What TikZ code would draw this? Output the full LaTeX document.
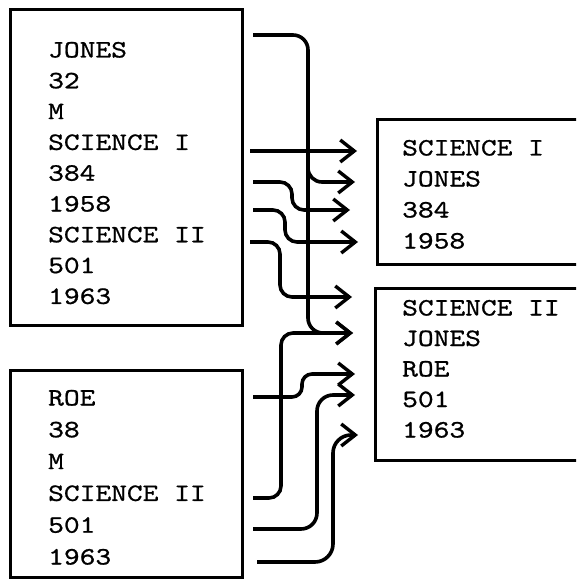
\documentclass[tikz,border=0pt]{standalone}
\usepackage{fontspec}
\newfontfamily\typewriter{lmmono10-regular.otf}[FakeStretch=1.2, FakeBold=0.8]
\usetikzlibrary{arrows.meta}

\begin{document}
\begin{tikzpicture}[
  x=1pt, y=-1pt,
  record/.style={draw, line width=3pt, inner sep=0pt},
  entry/.style={anchor=base west, inner sep=0pt, font=\typewriter\fontsize{25}{30}\selectfont},
  link/.style={line width=3.6pt, rounded corners=12pt, -{Straight Barb[length=14pt, width=22pt, line width=3.4pt]}}
]
\useasboundingbox (0,0) rectangle (576,580);
\clip (0,0) rectangle (576,580);
\fill[white] (0,0) rectangle (576,580);

% student records
\node[record, minimum width=232pt, minimum height=315pt] (jonesrec) at (126,167.5) {};
\node[record, minimum width=232pt, minimum height=207pt] (roerec) at (126,473.5) {};
% course cards, cut off at the right
\node[record, minimum width=223pt, minimum height=144pt] (sci1rec) at (488.5,192) {};
\node[record, minimum width=225pt, minimum height=172pt] (sci2rec) at (487.5,374) {};

\foreach \t [count=\i] in {JONES,32,M,SCIENCE I,384,1958,SCIENCE II,501,1963}
  \node[entry] (j\i) at (48,26.7+30.8*\i) {\t};
\foreach \t [count=\i] in {ROE,38,M,SCIENCE II,501,1963}
  \node[entry] (r\i) at (48,373.7+31.8*\i) {\t};
\foreach \t [count=\i] in {SCIENCE I,JONES,384,1958}
  \node[entry] (a\i) at (402,124.5+31*\i) {\t};
\foreach \t [count=\i] in {SCIENCE II,JONES,ROE,501,1963}
  \node[entry] (b\i) at (402,285+30.5*\i) {\t};

% free ends of the links
\coordinate (jname) at (253,35);
\coordinate (jsci1) at (250,151);
\coordinate (jroom1) at (253,182);
\coordinate (jyear1) at (253,210);
\coordinate (jsci2) at (250,242);
\coordinate (rname) at (253,397);
\coordinate (rsci2) at (253,498);
\coordinate (rroom) at (253,529);
\coordinate (ryear) at (257,562);
\coordinate (in1sci) at (357,151);
\coordinate (in1jones) at (355,182);
\coordinate (in1room) at (350,210);
\coordinate (in1year) at (358,242);
\coordinate (in2sci) at (352,297);
\coordinate (in2jones) at (353,333);
\coordinate (in2roe) at (355,374);
\coordinate (in2room) at (355,395);
\coordinate (in2year) at (358,435);

\draw[link, rounded corners=15pt] (jname) -- (308,35) -- (308,333) -- (in2jones);
\draw[link, rounded corners=14pt] (308,150) -- (308,182) -- (in1jones);
\draw[link] (jsci1) -- (in1sci);
\draw[link] (jroom1) -- (292,182) -- (292,210) -- (in1room);
\draw[link] (jyear1) -- (285,210) -- (285,242) -- (in1year);
\draw[link] (jsci2) -- (280,242) -- (280,297) -- (in2sci);
\draw[link, rounded corners=10pt] (rname) -- (302,397) -- (302,374) -- (in2roe);
\draw[link] (rsci2) -- (281,498) -- (281,333) -- (in2jones);
\draw[link, rounded corners=16pt] (rroom) -- (317,529) -- (317,395) -- (in2room);
\draw[link, rounded corners=18pt] (ryear) -- (333,562) -- (333,435) -- (in2year);
\end{tikzpicture}
\end{document}
